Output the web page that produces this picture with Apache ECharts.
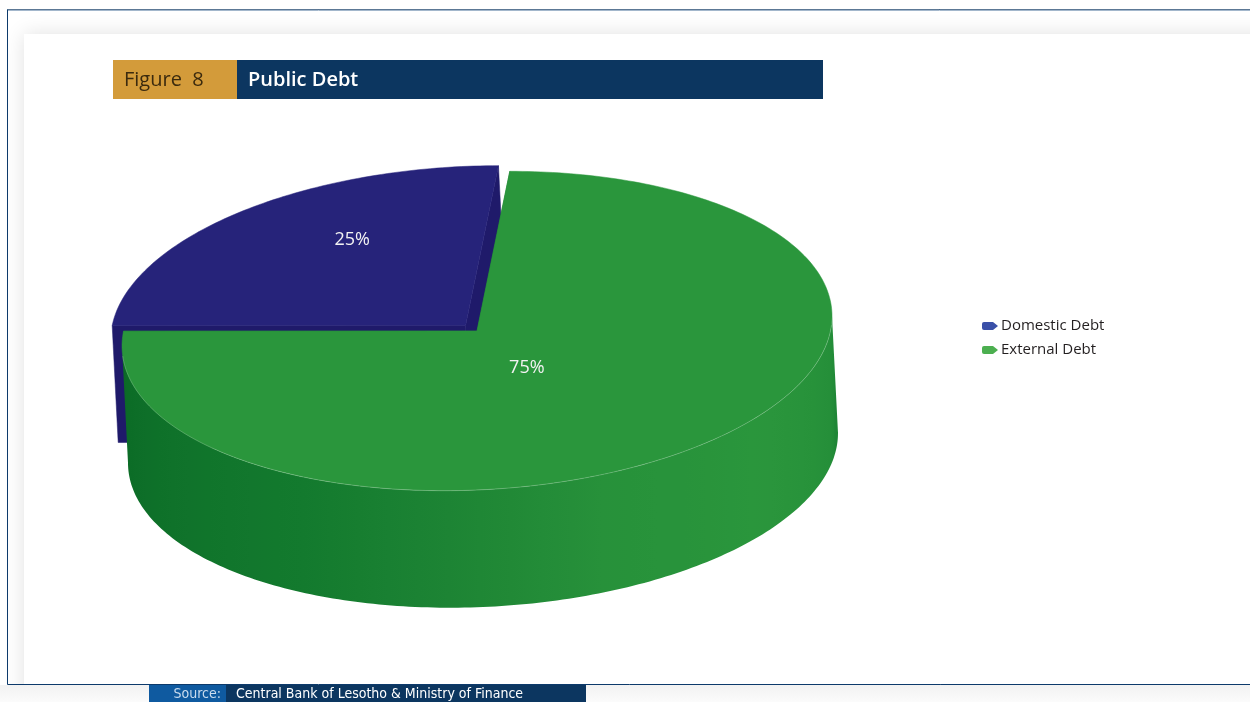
<!DOCTYPE html>
<html lang="en">
<head>
<meta charset="UTF-8">
<title>Public Debt</title>
<style>
  html, body { margin: 0; padding: 0; background: #fff; }
  #app { width: 1250px; height: 702px; }
</style>
</head>
<body>
<div id="app"></div>
<script src="https://cdn.jsdelivr.net/npm/echarts@6/dist/echarts.min.js"></script>
<script>
// data
const categories = ['Domestic Debt', 'External Debt'];
const shares = [25, 75];

// look
const topColors = ['#26237a', '#2a963c'];
const faceColors = ['#1f1a6a', '#1c7d33'];
const legendColors = ['#3a50a8', '#4caf50'];
const wallStops = [
  [[0, '#201b6c'], [360, '#201b6c']],
  [[180, '#0b6a26'], [240, '#137a2e'], [265, '#1d8434'], [290, '#27913a'],
   [323, '#2a963c'], [350, '#258f39'], [360, '#1f8636']]
];
const explode = [0.05, 0];

// 3d pie geometry (pixels)
const CX = 477, CY = 331, RX = 355, RY = 159, SHEAR = 0.042;
const DEPTH_X = 6, DEPTH_Y = 117;
const START = 84.7;
const LABEL_SX = 0.9, LABEL_SY = 1.35, LABEL_DX = 9, LABEL_DY = 6;

const total = shares.reduce((a, b) => a + b, 0);
const slices = [];
let acc = START;
shares.forEach((v, i) => {
  const a0 = acc, a1 = acc + v / total * 360;
  acc = a1;
  const m = (a0 + a1) / 2 * Math.PI / 180;
  const e = explode[i];
  slices.push({
    a0, a1, mid: (a0 + a1) / 2,
    ox: e * RX * Math.cos(m),
    oy: -e * RY * Math.sin(m) - SHEAR * e * RX * Math.cos(m)
  });
});

function proj(s, r, deg, h) {
  const t = deg * Math.PI / 180;
  const c = Math.cos(t), sn = Math.sin(t);
  return [
    CX + s.ox + r * RX * c + h * DEPTH_X,
    CY + s.oy - r * RY * sn - SHEAR * r * RX * c + h * DEPTH_Y
  ];
}

function hexToRgb(h) {
  const n = parseInt(h.slice(1), 16);
  return [(n >> 16) & 255, (n >> 8) & 255, n & 255];
}
function wallColor(i, deg) {
  const stops = wallStops[i];
  let d = ((deg % 360) + 360) % 360;
  if (d === 0 && deg > 0) d = 360;
  if (d <= stops[0][0]) return stops[0][1];
  for (let k = 1; k < stops.length; k++) {
    if (d <= stops[k][0]) {
      const t = (d - stops[k - 1][0]) / (stops[k][0] - stops[k - 1][0]);
      const c0 = hexToRgb(stops[k - 1][1]), c1 = hexToRgb(stops[k][1]);
      const c = c0.map((v, j) => Math.round(v + (c1[j] - v) * t));
      return 'rgb(' + c.join(',') + ')';
    }
  }
  return stops[stops.length - 1][1];
}

function buildSlice(i) {
  const s = slices[i];
  const children = [];
  const depthZ = Math.round(10 - 5 * Math.sin(s.mid * Math.PI / 180));

  // radial faces
  [s.a0, s.a1].forEach(a => {
    children.push({
      type: 'polygon', z2: depthZ,
      shape: { points: [proj(s, 0, a, 0), proj(s, 1, a, 0), proj(s, 1, a, 1), proj(s, 0, a, 1)] },
      style: { fill: faceColors[i], stroke: faceColors[i], lineWidth: 0.5 }
    });
  });

  // outer wall, front half only, one shape with a horizontal shade
  const breaks = [s.a0];
  for (let k = Math.ceil(s.a0 / 180) * 180; k < s.a1; k += 180) if (k > s.a0) breaks.push(k);
  breaks.push(s.a1);
  for (let b = 0; b < breaks.length - 1; b++) {
    const lo = breaks[b], hi = breaks[b + 1];
    if (Math.sin((lo + hi) / 2 * Math.PI / 180) >= 0) continue;
    const topArc = [], botArc = [];
    const n = Math.max(2, Math.ceil(hi - lo));
    for (let k = 0; k <= n; k++) {
      const a = lo + (hi - lo) * k / n;
      topArc.push(proj(s, 1, a, 0));
      botArc.push(proj(s, 1, a, 1));
    }
    const pts = topArc.concat(botArc.reverse());
    const xs = pts.map(p => p[0]);
    const xmin = Math.min(...xs), xmax = Math.max(...xs);
    const stops = [];
    for (let k = 0; k <= 36; k++) {
      const a = lo + (hi - lo) * k / 36;
      const x = proj(s, 1, a, 0.5)[0];
      stops.push({ offset: Math.min(1, Math.max(0, (x - xmin) / (xmax - xmin))), color: wallColor(i, a) });
    }
    children.push({
      type: 'polygon', z2: depthZ + 20,
      shape: { points: pts },
      style: { fill: new echarts.graphic.LinearGradient(0, 0, 1, 0, stops) }
    });
  }

  // top
  const pts = [proj(s, 0, s.a0, 0)];
  for (let a = s.a0; a < s.a1; a += 1) pts.push(proj(s, 1, a, 0));
  pts.push(proj(s, 1, s.a1, 0));
  children.push({
    type: 'polygon', z2: 100,
    shape: { points: pts },
    style: { fill: topColors[i], stroke: topColors[i], lineWidth: 0.5 }
  });
  // faint highlight on the front rim
  const rim = [];
  for (let a = s.a0; a <= s.a1; a += 1) {
    if (Math.sin(a * Math.PI / 180) < -0.05) rim.push(proj(s, 1, a, 0));
  }
  if (rim.length > 1) {
    children.push({
      type: 'polyline', z2: 101,
      shape: { points: rim },
      style: { stroke: 'rgba(255,255,255,0.3)', lineWidth: 0.7, fill: null }
    });
  }

  // label near centroid of the top
  const half = (s.a1 - s.a0) / 2 * Math.PI / 180;
  const rc = 2 / 3 * Math.sin(half) / half;
  const m = s.mid * Math.PI / 180;
  const lx = CX + s.ox + LABEL_DX + LABEL_SX * rc * RX * Math.cos(m);
  const ly = CY + s.oy + LABEL_DY + LABEL_SY * (-rc * RY * Math.sin(m) - SHEAR * rc * RX * Math.cos(m));
  children.push({
    type: 'text', z2: 200,
    x: lx, y: ly,
    style: {
      text: Math.round(shares[i] / total * 100) + '%',
      fill: '#f2f2f2', font: '18px "Open Sans", sans-serif',
      align: 'center', verticalAlign: 'middle'
    }
  });

  return { type: 'group', children };
}

const myChart = echarts.init(document.getElementById('app'));

const series = categories.map((name, i) => ({
  name,
  type: 'custom',
  coordinateSystem: 'none',
  silent: true,
  itemStyle: { color: legendColors[i] },
  data: [[shares[i]]],
  renderItem: () => buildSlice(i)
}));

const options = {
  animation: false,
  backgroundColor: '#fff',
  legend: {
    data: categories,
    orient: 'vertical',
    left: 977,
    top: 313,
    itemWidth: 16,
    itemHeight: 8,
    itemGap: 8,
    icon: 'path://M2,0 L11,0 L16,4 L11,8 L2,8 Q0,8 0,6 L0,2 Q0,0 2,0 Z',
    selectedMode: false,
    textStyle: { fontSize: 15, color: '#231f20', fontFamily: 'Open Sans', lineHeight: 16, padding: [0, 0, 0, -2] }
  },
  graphic: [
    // page shadow panel + frame
    { type: 'rect', z: -10, shape: { x: 24, y: 34, width: 1260, height: 700 },
      style: { fill: '#fff', shadowBlur: 20, shadowColor: 'rgba(0,0,0,0.12)' } },
    { type: 'rect', z: -9, shape: { x: 0, y: 685, width: 1250, height: 17 },
      style: { fill: new echarts.graphic.LinearGradient(0, 0, 0, 1, [
        { offset: 0, color: '#f2f2f2' }, { offset: 1, color: '#fbfbfb' }]) } },
    { type: 'rect', z: -8, shape: { x: 7.5, y: 9.5, width: 1300, height: 675 },
      style: { fill: null, stroke: '#0d3a6b', lineWidth: 1 } },
    { type: 'line', z: -7, shape: { x1: 8, y1: 9.5, x2: 1250, y2: 9.5 },
      style: { stroke: '#5c7895', lineWidth: 1 } },
    { type: 'line', z: -7, shape: { x1: 8, y1: 10.5, x2: 1250, y2: 10.5 },
      style: { stroke: '#a3b7cc', lineWidth: 1 } },
    // title bar
    { type: 'rect', shape: { x: 113, y: 60, width: 124, height: 39 }, style: { fill: '#d39b3a' } },
    { type: 'rect', shape: { x: 237, y: 60, width: 586, height: 39 }, style: { fill: '#0c3660' } },
    { type: 'text', x: 124, y: 80, style: { text: 'Figure  8', fill: '#3b2a0e',
      font: '20px "Open Sans", sans-serif', verticalAlign: 'middle' } },
    { type: 'text', x: 248, y: 80, style: { text: 'Public Debt', fill: '#ffffff',
      font: '600 20px "Open Sans", sans-serif', verticalAlign: 'middle' } },
    // source bar
    { type: 'rect', shape: { x: 149, y: 685, width: 77, height: 17 }, style: { fill: '#0f5aa0' } },
    { type: 'rect', shape: { x: 226, y: 685, width: 360, height: 17 }, style: { fill: '#0c3660' } },
    { type: 'text', x: 221, y: 694, style: { text: 'Source:', fill: '#c9dbee',
      font: '14px "Liberation Sans Narrow", "DejaVu Sans Condensed", sans-serif', align: 'right', verticalAlign: 'middle' } },
    { type: 'text', x: 236, y: 694, style: { text: 'Central Bank of Lesotho & Ministry of Finance', fill: '#ffffff',
      font: '14px "Liberation Sans Narrow", "DejaVu Sans Condensed", sans-serif', verticalAlign: 'middle' } }
  ],
  series
};

myChart.setOption(options);
</script>
</body>
</html>
